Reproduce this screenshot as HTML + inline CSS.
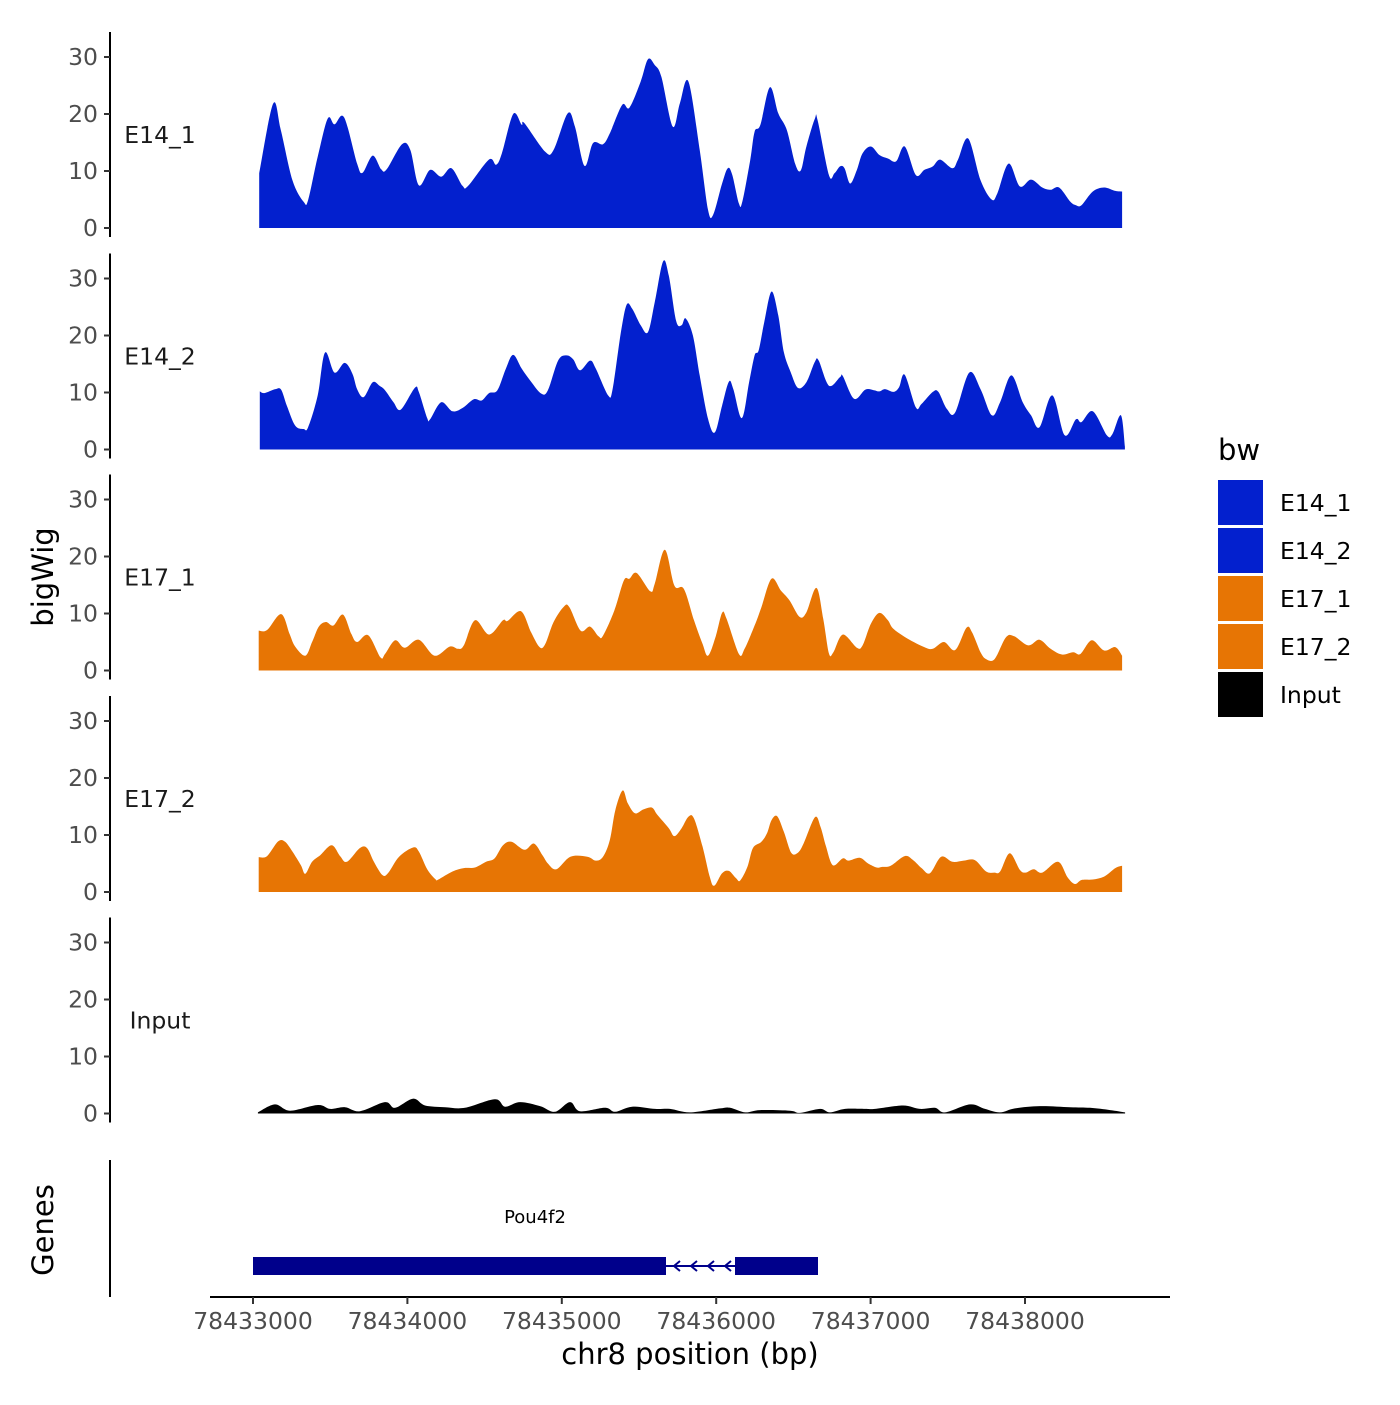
<!DOCTYPE html>
<html><head><meta charset="utf-8"><style>
body{margin:0;background:#fff}
svg text{font-family:"DejaVu Sans","Liberation Sans",sans-serif}
</style></head><body>
<svg id="chart" width="1400" height="1400" viewBox="0 0 1400 1400" xmlns="http://www.w3.org/2000/svg">
<g id="panels"></g>
<g id="xaxis"></g>
<text x="0" y="0" transform="translate(53,577) rotate(-90)" text-anchor="middle" font-size="29" fill="#000">bigWig</text>
<text x="0" y="0" transform="translate(53,1230) rotate(-90)" text-anchor="middle" font-size="29" fill="#000">Genes</text>
<text x="690" y="1364" text-anchor="middle" font-size="29" fill="#000">chr8 position (bp)</text>
<line x1="110" y1="1160" x2="110" y2="1297" stroke="#000" stroke-width="2"/>
<g>
<text x="535" y="1223" text-anchor="middle" font-size="18" fill="#000">Pou4f2</text>
<rect x="253" y="1257" width="413" height="18" fill="#00008B"/>
<line x1="666" y1="1266" x2="735" y2="1266" stroke="#00008B" stroke-width="2"/>
<path d="M680,1261 L674,1266 L680,1271 M697,1261 L691,1266 L697,1271 M714,1261 L708,1266 L714,1271 M731,1261 L725,1266 L731,1271" stroke="#00008B" stroke-width="2" fill="none"/>
<rect x="735" y="1257" width="83" height="18" fill="#00008B"/>
</g>
<g id="legend">
<text x="1218" y="460" font-size="29" fill="#000">bw</text>
</g>
</svg>
<script>
const NS="http://www.w3.org/2000/svg";
const tracks=["E14_1","E14_2","E17_1","E17_2","Input"];
const trackColors=["#0320CE","#0320CE","#E77504","#E77504","#000000"];
const xStart=78433000;
const xTicks=[78433000,78434000,78435000,78436000,78437000,78438000];
const yTicks=[0,10,20,30];
const e14_1_pos=[40,130,180,255,328,357,419,484,528,590,674,710,775,830,866,965,1019,1074,1147,1219,1285,1357,1394,1528,1575,1612,1685,1740,1758,1892,1947,2038,2085,2147,2202,2267,2311,2391,2438,2511,2558,2602,2645,2718,2765,2820,2893,2947,2980,3038,3075,3104,3147,3169,3220,3249,3286,3348,3402,3457,3511,3548,3584,3639,3657,3730,3766,3802,3831,3868,3911,3948,4002,4057,4112,4166,4221,4293,4348,4403,4450,4530,4566,4632,4712,4784,4821,4894,4966,5039,5112,5166,5221,5294,5330,5366,5439,5512,5585,5629];
const e14_1_val=[9.6,21.8,17.2,8.4,4.6,4.9,12.5,19.2,18.2,19.4,11.3,9.7,12.7,10.3,10.3,14.7,13.7,7.5,10.2,9.0,10.5,7.4,7.4,12.0,11.1,13.1,20.0,18.1,18.4,13.4,13.7,20.1,17.8,10.9,14.9,14.7,16.6,21.6,21.1,25.7,29.6,28.6,26.5,17.8,21.9,25.7,13.7,3.2,2.3,7.8,10.5,9.3,4.3,4.6,11.9,16.9,18.1,24.7,20.1,17.2,11.3,10.1,14.3,19.2,18.9,9.3,9.6,10.8,10.5,7.8,10.2,13.1,14.3,12.8,12.2,11.7,14.3,9.3,10.2,10.8,12.0,10.5,12.0,15.7,8.4,5.0,6.1,11.3,7.3,8.5,7.1,6.7,7.1,4.6,4.0,4.0,6.4,7.1,6.5,6.4];
const e14_2_pos=[44,73,146,182,219,273,328,357,419,466,528,594,644,674,717,775,819,855,910,957,1048,1074,1128,1147,1219,1292,1358,1430,1481,1529,1583,1638,1685,1740,1801,1867,1910,1976,2030,2074,2118,2183,2220,2300,2329,2383,2420,2456,2511,2558,2602,2656,2693,2740,2776,2802,2849,2893,2947,2991,3038,3082,3111,3166,3213,3249,3275,3311,3358,3402,3438,3482,3529,3584,3639,3664,3730,3802,3820,3893,3966,4021,4057,4093,4148,4184,4221,4293,4330,4403,4439,4494,4548,4639,4712,4785,4839,4912,4985,5039,5094,5177,5257,5330,5366,5439,5530,5566,5621,5647];
const e14_2_val=[10.2,9.9,10.6,10.5,7.7,4.2,3.6,3.9,9.5,17.0,13.5,15.2,13.3,10.6,9.2,11.8,11.2,10.4,8.3,7.0,10.8,10.1,5.5,5.3,8.3,6.7,7.3,8.8,8.6,9.9,10.4,14.2,16.6,14.2,11.9,9.8,10.4,15.6,16.5,15.8,13.9,15.6,14.2,9.5,10.6,20.6,25.4,24.7,21.8,20.6,25.8,33.0,30.5,22.6,21.8,23.0,20.0,13.0,5.4,3.0,7.7,11.9,10.6,5.5,11.8,16.5,17.4,22.3,27.7,23.5,17.1,13.6,10.8,11.8,15.4,15.6,11.2,12.7,12.9,8.9,10.5,10.4,10.2,10.6,10.1,10.9,13.1,7.4,8.0,10.1,10.1,7.1,6.5,13.5,10.6,6.0,8.3,13.0,8.3,6.0,3.9,9.5,2.5,5.3,4.8,6.7,2.5,2.7,6.0,0.5];
const e17_1_pos=[37,91,182,237,273,339,383,426,473,521,583,637,674,746,826,855,921,983,1074,1176,1274,1328,1365,1438,1529,1619,1649,1736,1801,1856,1892,1947,2013,2049,2122,2183,2238,2267,2340,2402,2438,2485,2573,2602,2667,2729,2791,2856,2911,2947,2995,3038,3067,3147,3184,3249,3293,3358,3420,3475,3540,3584,3649,3693,3730,3759,3820,3911,3948,4002,4057,4112,4148,4239,4348,4403,4475,4548,4621,4657,4712,4748,4803,4876,4930,5021,5094,5166,5239,5312,5359,5432,5512,5585,5629];
const e17_1_val=[7.0,7.1,9.9,6.4,4.2,2.6,5.0,7.7,8.5,7.9,9.8,6.4,5.0,6.2,2.3,2.9,5.3,4.0,5.4,2.6,4.2,3.8,4.4,8.8,6.3,8.8,8.7,10.4,6.7,4.1,4.6,8.5,11.2,11.1,7.0,7.7,6.0,6.1,10.5,15.8,16.1,17.1,13.9,15.2,21.2,14.9,14.3,8.8,4.7,2.6,5.8,10.1,9.1,2.9,3.8,7.9,11.1,16.1,14.0,12.3,9.4,10.2,14.5,9.1,3.0,3.2,6.3,4.0,4.4,8.2,10.1,8.8,7.3,5.6,4.1,3.8,5.0,3.6,7.5,6.7,3.2,2.0,2.0,5.8,6.0,4.4,5.4,3.8,2.8,3.2,2.9,5.3,3.5,4.1,2.6];
const e17_2_pos=[37,91,164,208,255,310,339,383,437,510,564,608,692,739,783,837,874,946,1037,1074,1128,1183,1201,1292,1365,1438,1510,1565,1619,1674,1758,1819,1874,1910,1965,2056,2165,2220,2267,2311,2347,2394,2427,2474,2529,2584,2620,2693,2729,2776,2820,2856,2911,2958,2987,3038,3082,3129,3155,3202,3238,3293,3329,3358,3395,3438,3486,3529,3566,3639,3675,3711,3755,3820,3857,3930,3984,4039,4075,4130,4221,4275,4330,4384,4457,4530,4603,4675,4748,4803,4839,4901,4966,5003,5057,5112,5214,5275,5323,5366,5439,5512,5585,5629];
const e17_2_val=[6.1,6.3,8.9,8.8,7.1,4.7,3.2,5.3,6.5,8.2,6.3,5.3,7.7,7.7,5.3,3.0,3.3,6.2,7.8,7.1,4.0,2.2,2.2,3.6,4.2,4.3,5.3,5.9,8.2,8.8,7.4,8.5,6.5,5.0,4.0,6.2,6.2,5.5,6.2,9.1,14.4,17.8,15.6,13.8,14.5,14.8,13.5,11.2,9.8,11.2,13.2,12.9,8.0,2.7,1.1,3.3,3.7,2.4,2.0,4.4,7.7,8.8,10.3,12.6,13.3,10.6,6.9,6.9,8.5,13.1,11.5,8.0,4.7,5.9,5.5,6.0,5.0,4.3,4.4,4.6,6.3,5.6,4.2,3.3,6.2,5.3,5.5,5.6,3.6,3.4,3.6,6.8,3.9,3.4,4.0,3.4,5.3,2.6,1.4,2.1,2.2,2.7,4.2,4.6];
const input_pos=[32,142,240,421,499,596,693,855,920,1036,1114,1244,1373,1567,1632,1729,1859,1956,2053,2118,2280,2345,2455,2604,2701,2830,3025,3090,3187,3284,3478,3543,3672,3737,3834,3964,4029,4210,4320,4417,4482,4644,4741,4838,4935,5097,5292,5421,5551,5648];
const input_val=[0.2,1.6,0.5,1.5,0.8,1.1,0.4,2.0,1.0,2.6,1.4,1.1,1.0,2.5,1.2,2.0,1.3,0.3,2.0,0.4,1.0,0.3,1.2,0.8,0.8,0.2,0.9,1.0,0.2,0.6,0.5,0.1,0.8,0.2,0.8,0.8,0.8,1.4,0.8,1.0,0.2,1.6,0.8,0.2,0.9,1.3,1.1,1.0,0.6,0.2];
const seriesPos=[e14_1_pos,e14_2_pos,e17_1_pos,e17_2_pos,input_pos];
const seriesVal=[e14_1_val,e14_2_val,e17_1_val,e17_2_val,input_val];

const panelZero=[228,449.5,670.5,892,1113.5];
const pxPerUnit=5.7;
const xScale=v=>253+(v-xStart)*0.1544;
const yScale=(i,v)=>panelZero[i]-v*pxPerUnit;

function mk(tag,attrs,parent){const e=document.createElementNS(NS,tag);for(const k in attrs)e.setAttribute(k,attrs[k]);parent.appendChild(e);return e;}

const panels=document.getElementById('panels');
tracks.forEach((t,i)=>{
  const g=mk('g',{},panels);
  
  
  const z=panelZero[i];
  const ax=mk('line',{x1:110,y1:z-196,x2:110,y2:z+9,stroke:'#000','stroke-width':2},g);
  
  
  yTicks.forEach(v=>{
    const y=yScale(i,v);
    const tk=mk('line',{x1:104,y1:y,x2:110,y2:y,stroke:'#333','stroke-width':2},g);
    
    
    const tl=mk('text',{x:98,y:y+8,'text-anchor':'end','font-size':23.5,fill:'#4d4d4d'},g);
    tl.textContent=v;
    
    
  });
  const lab=mk('text',{x:160,y:z-85,'text-anchor':'middle','font-size':23.5,fill:'#1a1a1a'},g);
  lab.textContent=t;
  
  
  const n=Math.min(seriesPos[i].length,seriesVal[i].length);
  const P=[];
  for(let k=0;k<n;k++)P.push([xScale(xStart+seriesPos[i][k]),yScale(i,seriesVal[i][k])]);
  let d='M'+P[0][0].toFixed(1)+','+z+' L'+P[0][0].toFixed(1)+','+P[0][1].toFixed(1);
  for(let k=0;k<P.length-1;k++){
    const p0=P[Math.max(k-1,0)],p1=P[k],p2=P[k+1],p3=P[Math.min(k+2,P.length-1)];
    const c1x=p1[0]+(p2[0]-p0[0])/6,c1y=Math.min(z,p1[1]+(p2[1]-p0[1])/6);
    const c2x=p2[0]-(p3[0]-p1[0])/6,c2y=Math.min(z,p2[1]-(p3[1]-p1[1])/6);
    d+=' C'+c1x.toFixed(1)+','+c1y.toFixed(1)+' '+c2x.toFixed(1)+','+c2y.toFixed(1)+' '+p2[0].toFixed(1)+','+p2[1].toFixed(1);
  }
  d+=' L'+P[P.length-1][0].toFixed(1)+','+z+' Z';
  const area=mk('path',{d:d,fill:trackColors[i]},g);
  
  
});

const xa=document.getElementById('xaxis');
const xl=mk('line',{x1:210,y1:1297,x2:1170,y2:1297,stroke:'#000','stroke-width':2},xa);


xTicks.forEach(v=>{
  const x=xScale(v);
  const tk=mk('line',{x1:x,y1:1297,x2:x,y2:1304,stroke:'#333','stroke-width':2},xa);
  
  
  const tl=mk('text',{x:x,y:1329,'text-anchor':'middle','font-size':23.5,fill:'#4d4d4d'},xa);
  tl.textContent=v;
  
  
});

const legend=document.getElementById('legend');
tracks.forEach((t,i)=>{
  const y=480+i*48;
  const r=mk('rect',{x:1218,y:y,width:45,height:45,fill:trackColors[i]},legend);
  
  
  const tx=mk('text',{x:1280,y:y+31,'font-size':23.5,fill:'#000'},legend);
  tx.textContent=t;
  
  
});
</script>
</body></html>
